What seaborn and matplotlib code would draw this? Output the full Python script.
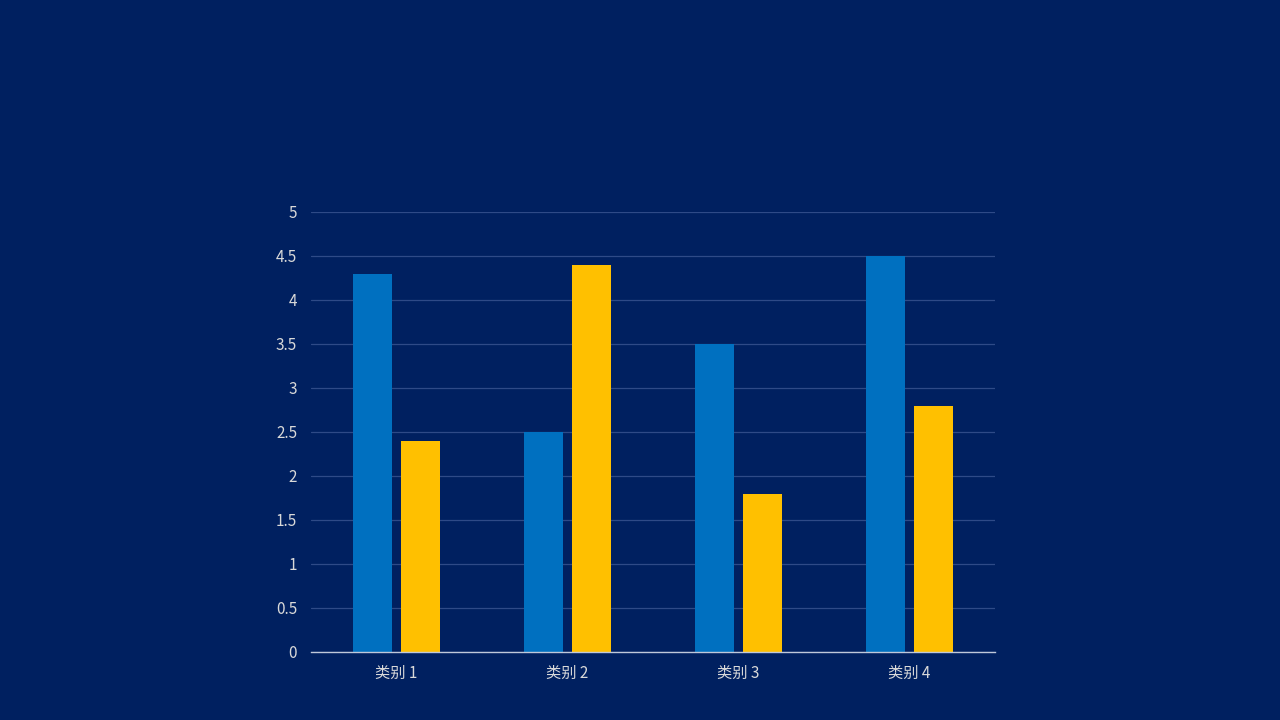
import seaborn as sns
import matplotlib.pyplot as plt
import pandas as pd

# data
categories = ['类别 1', '类别 2', '类别 3', '类别 4']
series1 = [4.3, 2.5, 3.5, 4.5]
series2 = [2.4, 4.4, 1.8, 2.8]
yticks = [0, 0.5, 1, 1.5, 2, 2.5, 3, 3.5, 4, 4.5, 5]

df = pd.DataFrame({
    'cat': categories * 2,
    'value': series1 + series2,
    'series': ['系列 1'] * 4 + ['系列 2'] * 4,
})

bg = '#002060'
txt = '#D9D9D9'

sns.set_theme(style='white')
plt.rcParams['font.family'] = ['Noto Sans CJK SC', 'DejaVu Sans']

fig = plt.figure(figsize=(12.8, 7.2), dpi=100, facecolor=bg)
ax = fig.add_axes([311 / 1280, 1 - 652 / 720, (995 - 311) / 1280, (652 - 212) / 720])
ax.set_facecolor(bg)

sns.barplot(data=df, x='cat', y='value', hue='series', order=categories,
            palette=['#0070C0', '#FFC000'], width=0.567, gap=0.19,
            saturation=1, legend=False, linewidth=0, ax=ax, zorder=3)

ax.set_ylim(0, 5)
ax.set_xlim(-0.5, 3.5)
ax.set_yticks(yticks)
ax.set_yticklabels([('%g' % v) for v in yticks])
ax.yaxis.grid(True, color='#2E4A87', linewidth=0.9, zorder=0)
ax.set_axisbelow(True)
ax.tick_params(axis='both', length=0, colors=txt, labelsize=11)
ax.tick_params(axis='x', pad=9)
ax.tick_params(axis='y', pad=10)
ax.set_xlabel('')
ax.set_ylabel('')
for s in ['top', 'right', 'left']:
    ax.spines[s].set_visible(False)
ax.spines['bottom'].set_color('#BFC8DA')
ax.spines['bottom'].set_linewidth(1)
ax.spines['bottom'].set_zorder(5)

fig.savefig('out.png', dpi=100, facecolor=bg)
